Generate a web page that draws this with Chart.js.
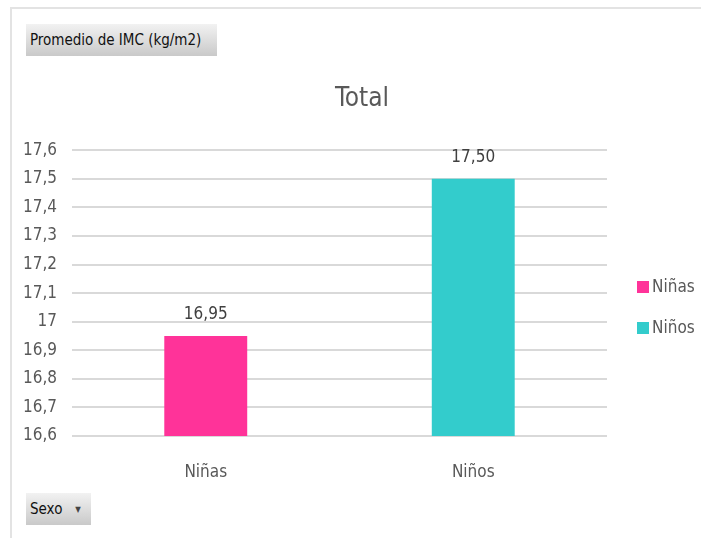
<!DOCTYPE html>
<html>
<head>
<meta charset="utf-8">
<script src="https://cdn.jsdelivr.net/npm/chart.js@4"></script>
<style>
  body { margin:0; background:#fff; font-family:"Liberation Sans Narrow","DejaVu Sans Condensed","Open Sans",sans-serif; }
  #wrap { position:relative; width:702px; height:538px; overflow:hidden; }
  #frame { position:absolute; left:10px; top:7px; width:691px; height:540px; border-top:2px solid #e3e3e3; border-left:2px solid #e3e3e3; box-sizing:border-box; }
  canvas { position:absolute; left:0; top:0; }
  .btn { position:absolute; height:32px; line-height:32px; padding-left:4px; font-size:15px; color:#111;
         background:linear-gradient(#f2f2f2,#c9c9c9); box-sizing:border-box; }
  #legend { position:absolute; left:637px; top:276px; font-size:17px; color:#595959; }
  .item { height:41px; display:flex; align-items:flex-start; }
  .sw { width:12px; height:12px; margin-top:5px; margin-right:3px; }
</style>
</head>
<body>
<div id="wrap">
  <div id="frame"></div>
  <canvas id="chart" width="702" height="538"></canvas>
  <div class="btn" style="left:26px;top:24px;width:191px;">Promedio de IMC (kg/m2)</div>
  <div class="btn" style="left:26px;top:493px;width:65px;">Sexo &nbsp;&nbsp;<span style="font-size:8px;color:#444;vertical-align:2px">&#9660;</span></div>
  <div id="legend"></div>
</div>
<script>
var categories = ["Niñas", "Niños"];
var promedio = [16.95, 17.50];
var colores = ["#FF3399", "#33CCCC"];

// one dataset per sexo so the legend shows each one, nulls skipped
var datasets = [];
for (var i = 0; i < categories.length; i++) {
  var d = [];
  for (var j = 0; j < categories.length; j++) d.push(i == j ? promedio[i] : null);
  datasets.push({ label: categories[i], data: d, backgroundColor: colores[i] });
}

var legendHtml = "";
for (var k = 0; k < categories.length; k++) {
  legendHtml += '<div class="item"><span class="sw" style="background:' + colores[k] + '"></span>' + categories[k] + '</div>';
}
document.getElementById("legend").innerHTML = legendHtml;

var FONT = '"Liberation Sans Narrow","DejaVu Sans Condensed","Open Sans",sans-serif';

var valueLabels = {
  id: "valueLabels",
  afterDatasetsDraw: function(chart) {
    var ctx = chart.ctx;
    ctx.save();
    ctx.font = "17px " + FONT;
    ctx.fillStyle = "#404040";
    ctx.textAlign = "center";
    ctx.textBaseline = "bottom";
    chart.data.datasets.forEach(function(ds, di) {
      chart.getDatasetMeta(di).data.forEach(function(bar, idx) {
        var v = ds.data[idx];
        if (v == null) return;
        ctx.fillText(v.toFixed(2).replace(".", ","), bar.x, bar.y - 13);
      });
    });
    ctx.restore();
  }
};

new Chart(document.getElementById("chart"), {
  type: "bar",
  data: { labels: categories, datasets: datasets },
  options: {
    responsive: false,
    animation: false,
    layout: { padding: { left: 22, right: 0, top: 0, bottom: 0 } },
    datasets: { bar: { skipNull: true, categoryPercentage: 1, barPercentage: 0.31 } },
    plugins: {
      legend: { display: false },
      tooltip: { enabled: false },
      title: {
        display: true, text: "Total", color: "#595959",
        font: { family: FONT, size: 26, weight: "normal" },
        padding: { top: 84, bottom: 35 }
      }
    },
    scales: {
      x: {
        grid: { display: false },
        border: { display: false },
        ticks: { color: "#595959", font: { family: FONT, size: 17 }, padding: 18 },
        afterFit: function(s) { s.height = 102; }
      },
      y: {
        min: 16.6, max: 17.6,
        grid: { color: "#d9d9d9", lineWidth: 2, drawTicks: false },
        border: { display: false },
        ticks: {
          stepSize: 0.1, color: "#595959", padding: 15,
          font: { family: FONT, size: 17 },
          callback: function(v) { return String(Number(v.toFixed(1))).replace(".", ","); }
        },
        afterFit: function(s) { s.width = 50; }
      },
      // empty axis on the right keeps room for the legend
      yLegend: {
        position: "right", display: true,
        grid: { display: false }, border: { display: false },
        ticks: { display: false },
        afterFit: function(s) { s.width = 95; }
      }
    }
  },
  plugins: [valueLabels]
});
</script>
</body>
</html>
